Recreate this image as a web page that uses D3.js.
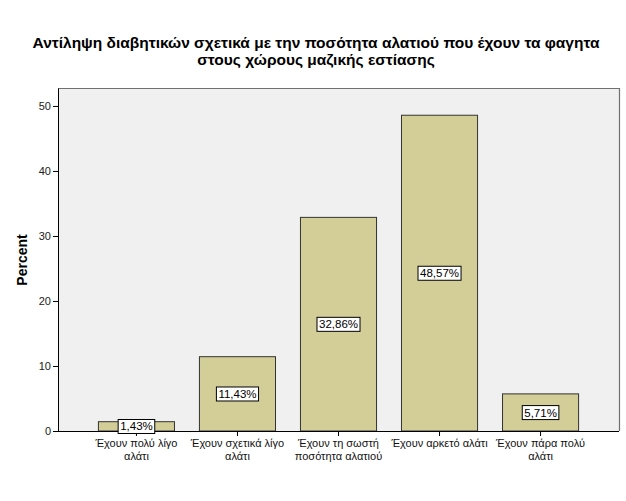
<!DOCTYPE html>
<html><head><meta charset="utf-8">
<script src="https://cdn.jsdelivr.net/npm/d3@7"></script>
<style>body{margin:0;background:#fff}svg{display:block;font-family:"Liberation Sans",Arial,sans-serif}</style>
</head><body><svg id="c" width="626" height="501"></svg>
<script>
const categories = [
  ["Έχουν πολύ λίγο","αλάτι"],
  ["Έχουν σχετικά λίγο","αλάτι"],
  ["Έχουν τη σωστή","ποσότητα αλατιού"],
  ["Έχουν αρκετό αλάτι"],
  ["Έχουν πάρα πολύ","αλάτι"]
];
const percents = [1.43, 11.43, 32.86, 48.57, 5.71];
const labels = ["1,43%","11,43%","32,86%","48,57%","5,71%"];
const yTicks = [0,10,20,30,40,50];
const titleLines = ["Αντίληψη διαβητικών σχετικά με την ποσότητα αλατιού που έχουν τα φαγητα","στους χώρους μαζικής εστίασης"];

const svg = d3.select("#c");
const L=58, R=619, T=88, B=431;
const x = d3.scaleBand().domain(d3.range(categories.length)).range([L,R]).paddingInner(0.247).paddingOuter(0.4);
const y = d3.scaleLinear().domain([0,52.76]).range([B,T]);

svg.append("rect").attr("x",L).attr("y",T).attr("width",R-L).attr("height",B-T).attr("fill","#F0F0F0");
svg.append("path").attr("d",`M${L},${T+0.5}H${R+0.5}V${B}`).attr("fill","none").attr("stroke","#707070").attr("stroke-width",1.2);

svg.append("g").selectAll("rect").data(percents).join("rect")
  .attr("x",(d,i)=>x(i)).attr("width",x.bandwidth())
  .attr("y",d=>y(d)).attr("height",d=>B-y(d))
  .attr("fill","#D3CE97").attr("stroke","#333").attr("stroke-width",1);

const ya = svg.append("g").attr("transform",`translate(${L},0)`)
  .call(d3.axisLeft(y).tickValues(yTicks).tickSize(5).tickPadding(2).tickSizeOuter(0));
ya.select(".domain").attr("stroke","#000");
ya.selectAll("text").attr("font-size",11).attr("fill","#222").attr("font-family","Liberation Sans, Arial");
const xa = svg.append("g").attr("transform",`translate(0,${B})`)
  .call(d3.axisBottom(x).tickSize(5).tickSizeOuter(0).tickFormat(""));
xa.select(".domain").attr("stroke","#000").attr("d",`M${L},0.5H${R}`);

categories.forEach((lines,i)=>{
  const t = svg.append("text").attr("text-anchor","middle").attr("font-size",11).attr("fill","#111")
    .attr("x",x(i)+x.bandwidth()/2).attr("y",447);
  lines.forEach((ln,j)=>t.append("tspan").attr("x",x(i)+x.bandwidth()/2).attr("dy",j?12.5:0).text(ln));
});

const lg = svg.append("g").selectAll("g").data(percents).join("g")
  .attr("transform",(d,i)=>`translate(${x(i)+x.bandwidth()/2},${(y(d)+B)/2})`);
lg.append("text").attr("text-anchor","middle").attr("dy","0.36em").attr("font-size",11.5).attr("fill","#000")
  .text((d,i)=>labels[i]);
lg.each(function(){
  const g=d3.select(this); const bb=g.select("text").node().getBBox();
  g.insert("rect","text").attr("x",bb.x-2).attr("y",bb.y-1).attr("width",bb.width+4).attr("height",bb.height+2)
   .attr("fill","#fff").attr("stroke","#000").attr("stroke-width",1);
});

svg.append("text").attr("transform","translate(27,260) rotate(-90)").attr("text-anchor","middle")
  .attr("font-size",14).attr("font-weight","bold").text("Percent");

const tt = svg.append("text").attr("text-anchor","middle").attr("font-size",15.5).attr("font-weight","bold").attr("y",48);
titleLines.forEach((ln,j)=>tt.append("tspan").attr("x",316).attr("dy",j?17:0).text(ln));
</script></body></html>
